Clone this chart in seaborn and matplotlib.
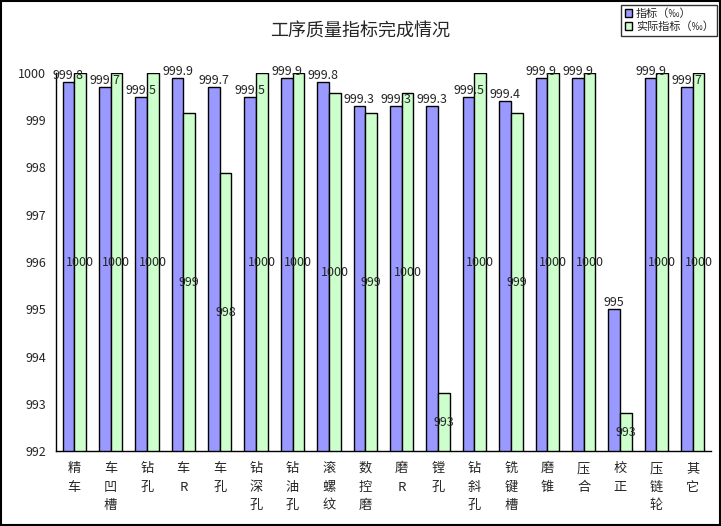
import matplotlib
matplotlib.use("Agg")
import matplotlib.pyplot as plt
import seaborn as sns
import pandas as pd
from matplotlib.patches import Patch, Rectangle

categories = ["精车", "车凹槽", "钻孔", "车R", "车孔", "钻深孔", "钻油孔", "滚螺纹", "数控磨",
              "磨R", "镗孔", "钻斜孔", "铣键槽", "磨锥", "压合", "校正", "压链轮", "其它"]
target = [999.8, 999.7, 999.5, 999.9, 999.7, 999.5, 999.9, 999.8, 999.3,
          999.3, 999.3, 999.5, 999.4, 999.9, 999.9, 995.0, 999.9, 999.7]
actual = [1000, 1000, 1000, 999.15, 997.88, 1000, 1000, 999.57, 999.15,
          999.57, 993.22, 1000, 999.15, 1000, 1000, 992.8, 1000, 1000]
series_names = ["指标（‰）", "实际指标（‰）"]
title = "工序质量指标完成情况"
yticks = [992, 993, 994, 995, 996, 997, 998, 999, 1000]

sns.set_theme(style="white")
plt.rcParams['font.family'] = ['Noto Sans CJK SC', 'DejaVu Sans']

df = pd.DataFrame({
    "cat": categories * 2,
    "series": [series_names[0]] * len(categories) + [series_names[1]] * len(categories),
    "value": target + actual,
})

fig = plt.figure(figsize=(7.21, 5.26), dpi=100)
ax = fig.add_axes([56 / 721, 1 - 451 / 526, (711 - 56) / 721, (451 - 73) / 526])

colors = ["#9999FF", "#CCFFCC"]
sns.barplot(data=df, x="cat", y="value", hue="series", palette=colors,
            width=0.64, gap=0, edgecolor="black", linewidth=1.0,
            saturation=1, legend=False, ax=ax)

ymin, ymax = yticks[0], yticks[-1]
ax.set_ylim(ymin, ymax)
ax.set_xlim(-0.5, len(categories) - 0.5)
ax.set_yticks(yticks)
ax.set_yticklabels([str(t) for t in yticks], fontsize=9)
ax.set_xlabel("")
ax.set_ylabel("")

# x tick labels stacked vertically
ax.set_xticks(range(len(categories)))
ax.set_xticklabels(["\n".join(list(c)) for c in categories], fontsize=9.5, linespacing=1.55,
                   va="top")
ax.tick_params(axis="x", which="major", length=0, pad=8)
ax.set_xticks([i - 0.5 for i in range(len(categories) + 1)], minor=True)
ax.tick_params(axis="x", which="minor", length=4, direction="out", color="black", width=1)
ax.tick_params(axis="y", which="major", length=4, direction="out", color="black", width=1, pad=3)

for s in ["top", "right"]:
    ax.spines[s].set_visible(False)
for s in ["left", "bottom"]:
    ax.spines[s].set_color("black")
    ax.spines[s].set_linewidth(1)

# labels
n = len(categories)
patches = ax.patches
blue = patches[:n]
green = patches[n:2 * n]
for p, v in zip(blue, target):
    ax.text(p.get_x() + p.get_width() / 2, v, f"{v:g}", ha="center", va="bottom",
            fontsize=9, clip_on=False)
for p, v in zip(green, actual):
    ax.text(p.get_x() + p.get_width() / 2, (ymin + v) / 2, f"{v:.0f}", ha="center",
            va="center", fontsize=9, clip_on=False)

fig.text(360 / 721, 1 - 32 / 526, title, ha="center", va="center", fontsize=13)

handles = [Patch(facecolor=c, edgecolor="black", linewidth=1) for c in colors]
leg = fig.legend(handles, series_names, loc="upper right", bbox_to_anchor=(717 / 721, 1 - 5 / 526),
                 fontsize=8, frameon=True, fancybox=False, handlelength=0.7, handleheight=0.7,
                 handletextpad=0.3, borderpad=0.3, labelspacing=0.25, borderaxespad=0)
leg.get_frame().set_edgecolor("black")
leg.get_frame().set_linewidth(1)

fig.patches.append(Rectangle((0.001, 0.001), 0.997, 0.997, transform=fig.transFigure,
                             fill=False, edgecolor="black", linewidth=1.5))

fig.savefig("out.png", dpi=100)
